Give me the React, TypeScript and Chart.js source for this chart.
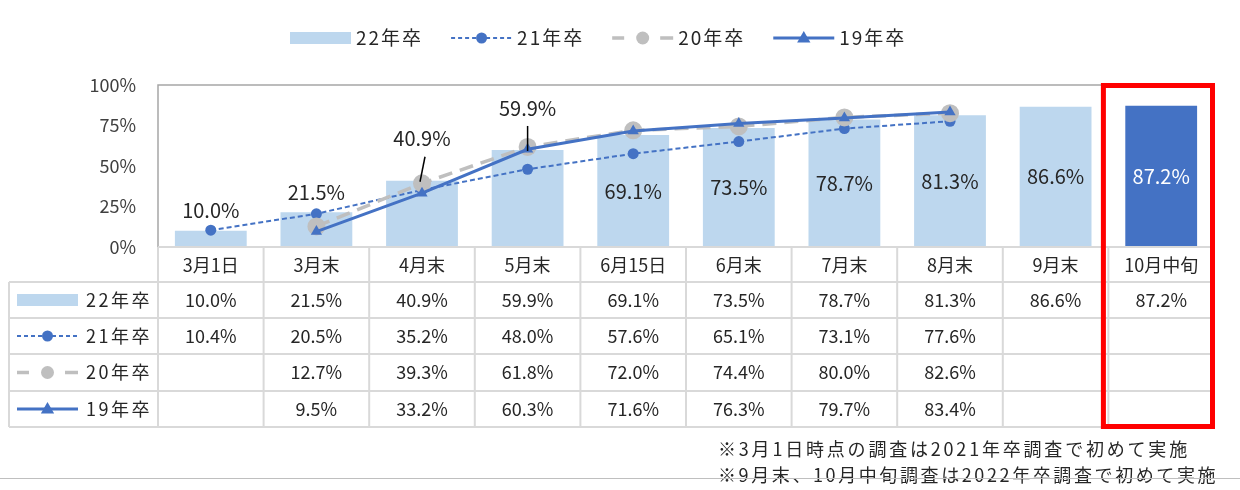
import React, { useEffect, useRef } from 'react';
import { Chart, registerables } from 'chart.js';

Chart.register(...registerables);

const categories = ['3月1日', '3月末', '4月末', '5月末', '6月15日', '6月末', '7月末', '8月末', '9月末', '10月中旬'];
const seriesNames = ['22年卒', '21年卒', '20年卒', '19年卒'];
const grad22 = [10.0, 21.5, 40.9, 59.9, 69.1, 73.5, 78.7, 81.3, 86.6, 87.2];
const grad21 = [10.4, 20.5, 35.2, 48.0, 57.6, 65.1, 73.1, 77.6, null, null];
const grad20 = [null, 12.7, 39.3, 61.8, 72.0, 74.4, 80.0, 82.6, null, null];
const grad19 = [null, 9.5, 33.2, 60.3, 71.6, 76.3, 79.7, 83.4, null, null];
const yTicks = [0, 25, 50, 75, 100];
const notes = ['※3月1日時点の調査は2021年卒調査で初めて実施', '※9月末、10月中旬調査は2022年卒調査で初めて実施'];

const LIGHT = '#BDD7EE';
const DARK = '#4472C4';
const GRAY = '#BFBFBF';
const TEXT = '#262626';
const FONT = "'Noto Sans CJK JP', 'Noto Sans', sans-serif";

const allSeries = [grad22, grad21, grad20, grad19];

function setSpacing(ctx: CanvasRenderingContext2D, px: number) {
  try { (ctx as any).letterSpacing = `${px}px`; } catch (e) {}
}

function drawTriangle(ctx: CanvasRenderingContext2D, x: number, y: number, r: number) {
  ctx.beginPath();
  ctx.moveTo(x, y - r);
  ctx.lineTo(x + r * 0.95, y + r * 0.65);
  ctx.lineTo(x - r * 0.95, y + r * 0.65);
  ctx.closePath();
  ctx.fillStyle = DARK;
  ctx.fill();
}

function drawSymbol(ctx: CanvasRenderingContext2D, kind: number, x0: number, x1: number, y: number) {
  ctx.save();
  const mid = (x0 + x1) / 2;
  if (kind === 0) {
    ctx.fillStyle = LIGHT;
    ctx.fillRect(x0, y - 6, x1 - x0, 12);
  } else if (kind === 1) {
    ctx.strokeStyle = DARK;
    ctx.lineWidth = 2;
    ctx.setLineDash([4, 3]);
    ctx.beginPath();
    ctx.moveTo(x0, y);
    ctx.lineTo(x1, y);
    ctx.stroke();
    ctx.setLineDash([]);
    ctx.fillStyle = DARK;
    ctx.beginPath();
    ctx.arc(mid, y, 5.5, 0, Math.PI * 2);
    ctx.fill();
  } else if (kind === 2) {
    ctx.strokeStyle = GRAY;
    ctx.lineWidth = 3.5;
    ctx.beginPath();
    ctx.moveTo(x0, y);
    ctx.lineTo(x0 + 12, y);
    ctx.moveTo(x1 - 13, y);
    ctx.lineTo(x1, y);
    ctx.stroke();
    ctx.fillStyle = GRAY;
    ctx.beginPath();
    ctx.arc(mid, y, 6.5, 0, Math.PI * 2);
    ctx.fill();
  } else {
    ctx.strokeStyle = DARK;
    ctx.lineWidth = 3;
    ctx.beginPath();
    ctx.moveTo(x0, y);
    ctx.lineTo(x1, y);
    ctx.stroke();
    drawTriangle(ctx, mid, y, 7);
  }
  ctx.restore();
}

const customDraw = {
  id: 'customDraw',
  beforeDatasetsDraw(chart: any) {
    const { ctx, chartArea: a } = chart;
    ctx.save();
    ctx.strokeStyle = '#A6A6A6';
    ctx.lineWidth = 1.5;
    ctx.beginPath();
    ctx.moveTo(a.left, a.bottom);
    ctx.lineTo(a.left, a.top);
    ctx.lineTo(a.right, a.top);
    ctx.lineTo(a.right, a.bottom);
    ctx.stroke();
    ctx.restore();
  },
  afterDatasetsDraw(chart: any) {
    const { ctx, chartArea: a } = chart;
    const W = chart.width;
    const n = categories.length;
    const cw = (a.right - a.left) / n;
    const barMeta = chart.getDatasetMeta(0);

    ctx.save();
    // bar data labels
    ctx.font = `20px ${FONT}`;
    ctx.textAlign = 'center';
    ctx.textBaseline = 'middle';
    barMeta.data.forEach((el: any, i: number) => {
      const label = grad22[i].toFixed(1) + '%';
      const x = el.x;
      const top = el.y;
      const base = el.base;
      if (i < 2) {
        ctx.fillStyle = TEXT;
        ctx.fillText(label, x, top - 20);
      } else if (i < 4) {
        ctx.fillStyle = TEXT;
        ctx.fillText(label, x, top - 42);
        ctx.strokeStyle = '#000000';
        ctx.lineWidth = 1.5;
        ctx.beginPath();
        ctx.moveTo(x + (i === 2 ? 3 : 0), top - 24);
        ctx.lineTo(x - (i === 2 ? 2 : 0), top + 1);
        ctx.stroke();
      } else {
        ctx.fillStyle = i === n - 1 ? '#FFFFFF' : TEXT;
        ctx.fillText(label, x, (top + base) / 2);
      }
    });

    // legend
    ctx.font = `19px ${FONT}`;
    ctx.textAlign = 'left';
    setSpacing(ctx, 2);
    let lx = 290;
    const ly = 38;
    seriesNames.forEach((name, k) => {
      drawSymbol(ctx, k, lx, lx + 61, ly);
      ctx.fillStyle = TEXT;
      ctx.fillText(name, lx + 66, ly);
      lx += 66 + ctx.measureText(name).width + 28;
    });
    setSpacing(ctx, 0);

    // table
    const tableLeft = 9;
    const edges = [a.bottom, a.bottom + 35, a.bottom + 71, a.bottom + 107, a.bottom + 144, a.bottom + 180];
    const tableBottom = edges[edges.length - 1];
    ctx.strokeStyle = '#D9D9D9';
    ctx.lineWidth = 2;
    ctx.beginPath();
    for (let i = 0; i <= n; i++) {
      const x = a.left + i * cw;
      ctx.moveTo(x, a.bottom);
      ctx.lineTo(x, tableBottom);
    }
    ctx.moveTo(tableLeft, edges[1]);
    ctx.lineTo(tableLeft, tableBottom);
    ctx.moveTo(a.left, edges[0]);
    ctx.lineTo(a.right, edges[0]);
    for (let r = 1; r < edges.length; r++) {
      ctx.moveTo(tableLeft, edges[r]);
      ctx.lineTo(a.right, edges[r]);
    }
    ctx.stroke();

    ctx.fillStyle = TEXT;
    ctx.font = `18px ${FONT}`;
    ctx.textAlign = 'center';
    categories.forEach((c, i) => {
      const cx = a.left + (i + 0.5) * cw;
      ctx.fillText(c, cx, (edges[0] + edges[1]) / 2 + 1);
    });
    allSeries.forEach((s, r) => {
      const cy = (edges[r + 1] + edges[r + 2]) / 2;
      s.forEach((v, i) => {
        if (v == null) return;
        const cx = a.left + (i + 0.5) * cw;
        ctx.fillStyle = TEXT;
        ctx.fillText(v.toFixed(1) + '%', cx, cy);
      });
      drawSymbol(ctx, r, 17, 78, cy);
      ctx.fillStyle = TEXT;
      ctx.textAlign = 'right';
      setSpacing(ctx, 2.5);
      ctx.fillText(seriesNames[r], 152, cy);
      setSpacing(ctx, 0);
      ctx.textAlign = 'center';
    });

    // red highlight box
    const lastLeft = a.left + (n - 1) * cw;
    ctx.strokeStyle = '#FF0000';
    ctx.lineWidth = 5;
    ctx.strokeRect(lastLeft - 5, a.top + 0.5, a.right - 1.5 - (lastLeft - 5), tableBottom - 0.5 - (a.top + 0.5));

    // notes
    ctx.fillStyle = TEXT;
    ctx.textAlign = 'left';
    ctx.font = `18px ${FONT}`;
    setSpacing(ctx, 2.8);
    ctx.fillText(notes[0], 718, 449);
    setSpacing(ctx, 2.6);
    ctx.fillText(notes[1], 718, 475);
    setSpacing(ctx, 0);

    // separator line
    ctx.strokeStyle = '#BFBFBF';
    ctx.lineWidth = 1;
    ctx.beginPath();
    ctx.moveTo(0, 478.5);
    ctx.lineTo(W, 478.5);
    ctx.stroke();
    ctx.restore();
  },
};

export default function App() {
  const ref = useRef<HTMLCanvasElement | null>(null);
  useEffect(() => {
    document.body.style.margin = '0';
    const canvas = ref.current;
    if (!canvas) return;
    const chart = new Chart(canvas, {
      type: 'bar',
      data: {
        labels: categories,
        datasets: [
          {
            type: 'bar',
            label: seriesNames[0],
            data: grad22,
            backgroundColor: categories.map((_, i) => (i === categories.length - 1 ? DARK : LIGHT)),
            barPercentage: 0.8,
            categoryPercentage: 0.85,
            order: 4,
          },
          {
            type: 'line',
            label: seriesNames[1],
            data: grad21,
            borderColor: DARK,
            borderWidth: 2,
            borderDash: [5, 3],
            pointStyle: 'circle',
            pointRadius: 5.5,
            pointBackgroundColor: DARK,
            pointBorderWidth: 0,
            order: 3,
          },
          {
            type: 'line',
            label: seriesNames[2],
            data: grad20,
            borderColor: GRAY,
            borderWidth: 3.5,
            borderDash: [14, 8],
            pointStyle: 'circle',
            pointRadius: 9,
            pointBackgroundColor: GRAY,
            pointBorderWidth: 0,
            order: 2,
          },
          {
            type: 'line',
            label: seriesNames[3],
            data: grad19,
            borderColor: DARK,
            borderWidth: 3,
            pointStyle: 'triangle',
            pointRadius: 6.5,
            pointBackgroundColor: DARK,
            pointBorderWidth: 0,
            order: 1,
          },
        ] as any,
      },
      options: {
        animation: false,
        responsive: false,
        devicePixelRatio: 1,
        layout: { padding: { left: 0, right: 26, top: 85, bottom: 243 } },
        plugins: { legend: { display: false }, tooltip: { enabled: false } },
        scales: {
          x: { display: false },
          y: {
            min: 0,
            max: 100,
            afterBuildTicks: (scale: any) => {
              scale.ticks = yTicks.map((v) => ({ value: v }));
            },
            afterFit: (scale: any) => {
              scale.width = 158;
            },
            grid: { display: false },
            border: { display: false },
            ticks: {
              padding: 14,
              color: '#404040',
              font: { family: FONT, size: 18 },
              callback: (v: any) => `${v}%`,
            },
          },
        },
      } as any,
      plugins: [customDraw],
    });
    return () => chart.destroy();
  }, []);
  return (
    <div style={{ position: 'absolute', left: 0, top: 0, width: 1240, height: 490 }}>
      <canvas ref={ref} width={1240} height={490} />
    </div>
  );
}
